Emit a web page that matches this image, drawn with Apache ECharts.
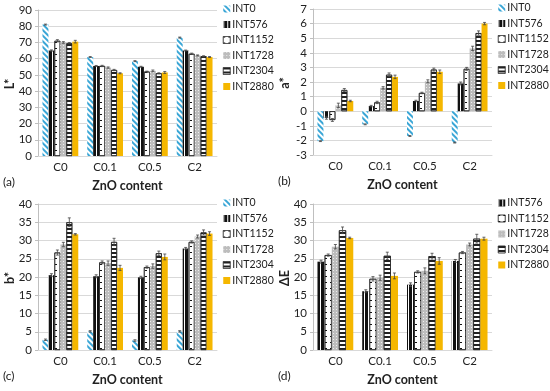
<!DOCTYPE html>
<html><head><meta charset="utf-8">
<script src="https://cdn.jsdelivr.net/npm/echarts@6/dist/echarts.min.js"></script>
<style>html,body{margin:0;padding:0;background:#fff}#c{width:550px;height:391px}</style>
</head><body><div id="c"></div>
<script>
const categories = ['C0', 'C0.1', 'C0.5', 'C2'];
const seriesNames = ['INT0', 'INT576', 'INT1152', 'INT1728', 'INT2304', 'INT2880'];

// (a) L*
const L_INT0 = [81, 61, 58.5, 73];
const L_INT576 = [65, 55.5, 55, 65];
const L_INT1152 = [71, 55.5, 52, 63];
const L_INT1728 = [70, 54.5, 52.5, 62];
const L_INT2304 = [69.5, 53, 51, 61.5];
const L_INT2880 = [70.5, 51, 51.5, 61];
const L_err = [[0.3,0.3,0.3,0.3],[0.4,0.3,0.3,0.3],[0.7,0.4,0.3,0.4],[0.5,0.4,0.5,0.3],[0.4,0.4,0.3,0.3],[0.8,0.3,0.6,0.3]];

// (b) a*
const a_INT0 = [-2.05, -0.9, -1.7, -2.15];
const a_INT576 = [-0.45, 0.35, 0.7, 1.9];
const a_INT1152 = [-0.6, 0.6, 1.25, 2.9];
const a_INT1728 = [0.4, 1.6, 2.05, 4.3];
const a_INT2304 = [1.45, 2.5, 2.85, 5.35];
const a_INT2880 = [0.7, 2.35, 2.7, 6.0];
const a_err = [[0.03,0.03,0.03,0.03],[0.1,0.05,0.05,0.1],[0.1,0.08,0.05,0.1],[0.15,0.08,0.1,0.15],[0.1,0.12,0.1,0.15],[0.05,0.12,0.12,0.08]];

// (c) b*
const b_INT0 = [2.8, 5.1, 2.6, 5.1];
const b_INT576 = [20.5, 20.2, 19.9, 27.8];
const b_INT1152 = [26.7, 24.0, 22.7, 29.6];
const b_INT1728 = [28.9, 23.8, 23.0, 31.1];
const b_INT2304 = [35.0, 29.6, 26.5, 32.2];
const b_INT2880 = [31.7, 22.5, 25.5, 31.9];
const b_err = [[0.2,0.2,0.2,0.2],[0.4,0.4,0.3,0.3],[0.7,0.4,0.3,0.3],[0.6,0.6,0.6,0.4],[1.2,1.0,0.6,0.7],[0.2,0.7,0.8,0.5]];

// (d) ΔE
const dNames = ['INT576', 'INT1152', 'INT1728', 'INT2304', 'INT2880'];
const dE_INT576 = [24.2, 16.1, 17.9, 24.4];
const dE_INT1152 = [26.0, 19.5, 21.4, 26.7];
const dE_INT1728 = [28.3, 19.8, 21.7, 28.9];
const dE_INT2304 = [32.8, 25.8, 25.7, 30.5];
const dE_INT2880 = [30.7, 20.3, 24.4, 30.5];
const dE_err = [[0.4,0.4,0.5,0.4],[0.3,0.6,0.3,0.3],[0.6,0.7,0.8,0.4],[0.9,1.0,0.8,1.2],[0.2,0.8,0.9,0.4]];

const FONT = 'Lato';
const styles = {
  INT0: {color:'#ffffff', decal:{symbol:'rect', color:'#3aa6d6', dashArrayX:[2,2], dashArrayY:[1,0], rotation:-Math.PI/4}},
  INT576: {color:'#111111', decal:{symbol:'rect', color:'#ffffff', dashArrayX:[1,3], dashArrayY:[1,0], rotation:0}},
  INT1152: {color:'#ffffff', borderColor:'#222', borderWidth:0.7, decal:{symbol:'rect', color:'#111', dashArrayX:[2,3], dashArrayY:[1,5], rotation:0}},
  INT1728: {color:'#bdbdbd', decal:{symbol:'rect', color:'#eeeeee', dashArrayX:[1,2], dashArrayY:[1,2], rotation:0}},
  INT2304: {color:'#ffffff', borderColor:'#222', borderWidth:0.7, decal:{symbol:'rect', color:'#222', dashArrayX:[1,0], dashArrayY:[1.4,1.8], rotation:0}},
  INT2880: {color:'#f5b700'}
};

const panels = [
  {names: seriesNames, data:[L_INT0,L_INT576,L_INT1152,L_INT1728,L_INT2304,L_INT2880], err:L_err, min:0, max:90, interval:10, yname:'L*', tag:'(a)', left:38, top:10},
  {names: seriesNames, data:[a_INT0,a_INT576,a_INT1152,a_INT1728,a_INT2304,a_INT2880], err:a_err, min:-3, max:7, interval:1, yname:'a*', tag:'(b)', left:313, top:9},
  {names: seriesNames, data:[b_INT0,b_INT576,b_INT1152,b_INT1728,b_INT2304,b_INT2880], err:b_err, min:0, max:40, interval:5, yname:'b*', tag:'(c)', left:38, top:204},
  {names: dNames, data:[dE_INT576,dE_INT1152,dE_INT1728,dE_INT2304,dE_INT2880], err:dE_err, min:0, max:40, interval:5, yname:'ΔE', tag:'(d)', left:313, top:204}
];

const grid = [], xAxis = [], yAxis = [], legend = [], series = [], title = [], graphic = [];
panels.forEach((p, gi) => {
  grid.push({left:p.left, top:p.top, width:179, height:146, containLabel:false});
  xAxis.push({type:'category', gridIndex:gi, data:categories,
    axisLine:{show:true, onZero:false, lineStyle:{color:'#d9d9d9'}}, axisTick:{show:false},
    axisLabel:{color:'#222', fontFamily:FONT, fontSize:11.5, margin:5},
    name:'ZnO content', nameLocation:'middle', nameGap:23,
    nameTextStyle:{color:'#222', fontFamily:FONT, fontSize:12.5, fontWeight:'bold'}});
  yAxis.push({type:'value', gridIndex:gi, min:p.min, max:p.max, interval:p.interval,
    axisLine:{show:true, lineStyle:{color:'#bfbfbf'}}, axisTick:{show:true, length:3, lineStyle:{color:'#bfbfbf'}},
    splitLine:{lineStyle:{color:'#d9d9d9'}},
    axisLabel:{color:'#222', fontFamily:FONT, fontSize:11.5, margin:6}});
  graphic.push({type:'text', x:p.left-28, y:p.top+74, rotation:Math.PI/2,
    style:{text:p.yname, fill:'#222', font:'bold 12.5px Lato', align:'center', verticalAlign:'middle'}});
  legend.push({orient:'vertical', left:p.left+185, top:p.top-8, padding:0, itemWidth:7, itemHeight:7, itemGap:1.5,
    icon:'rect', itemStyle:{borderWidth:0.5},
    data:p.names, textStyle:{color:'#222', fontFamily:FONT, fontSize:10.5, lineHeight:14, padding:[0,0,0,-3]}});
  title.push({text:p.tag, left:p.left-35, top:p.top+166, padding:0, textStyle:{color:'#222', fontFamily:FONT, fontSize:12, fontWeight:'normal'}});
  const n = p.names.length;
  p.names.forEach((nm, si) => {
    series.push({type:'bar', name:nm, xAxisIndex:gi, yAxisIndex:gi, data:p.data[si],
      barGap:'0%', barCategoryGap:'20%', itemStyle:styles[nm], emphasis:{disabled:true}});
  });
  const errData = [];
  p.names.forEach((nm, si) => {
    p.data[si].forEach((v, ci) => errData.push([ci, v, p.err[si][ci], si, n]));
  });
  series.push({type:'custom', xAxisIndex:gi, yAxisIndex:gi, data:errData, z:10, silent:true,
    encode:{x:0, y:1},
    renderItem: function(params, api){
      const ci = api.value(0), v = api.value(1), e = api.value(2), si = api.value(3), nb = api.value(4);
      const band = api.size([1,0])[0];
      const bw = band*0.8/nb;
      const cx = api.coord([ci, v])[0] - band*0.4 + (si+0.5)*bw;
      const yTop = api.coord([ci, v + e])[1];
      const yBot = api.coord([ci, v - e])[1];
      const cap = 1.5;
      return {type:'group', children:[
        {type:'line', shape:{x1:cx, y1:yTop, x2:cx, y2:yBot}, style:{stroke:'#444', lineWidth:0.8}},
        {type:'line', shape:{x1:cx-cap, y1:yTop, x2:cx+cap, y2:yTop}, style:{stroke:'#444', lineWidth:0.8}},
        {type:'line', shape:{x1:cx-cap, y1:yBot, x2:cx+cap, y2:yBot}, style:{stroke:'#444', lineWidth:0.8}}
      ]};
    }});
});

const chart = echarts.init(document.getElementById('c'), null, {renderer:'canvas'});
chart.setOption({animation:false, backgroundColor:'#fff', title, grid, xAxis, yAxis, legend, series, graphic});
</script></body></html>
